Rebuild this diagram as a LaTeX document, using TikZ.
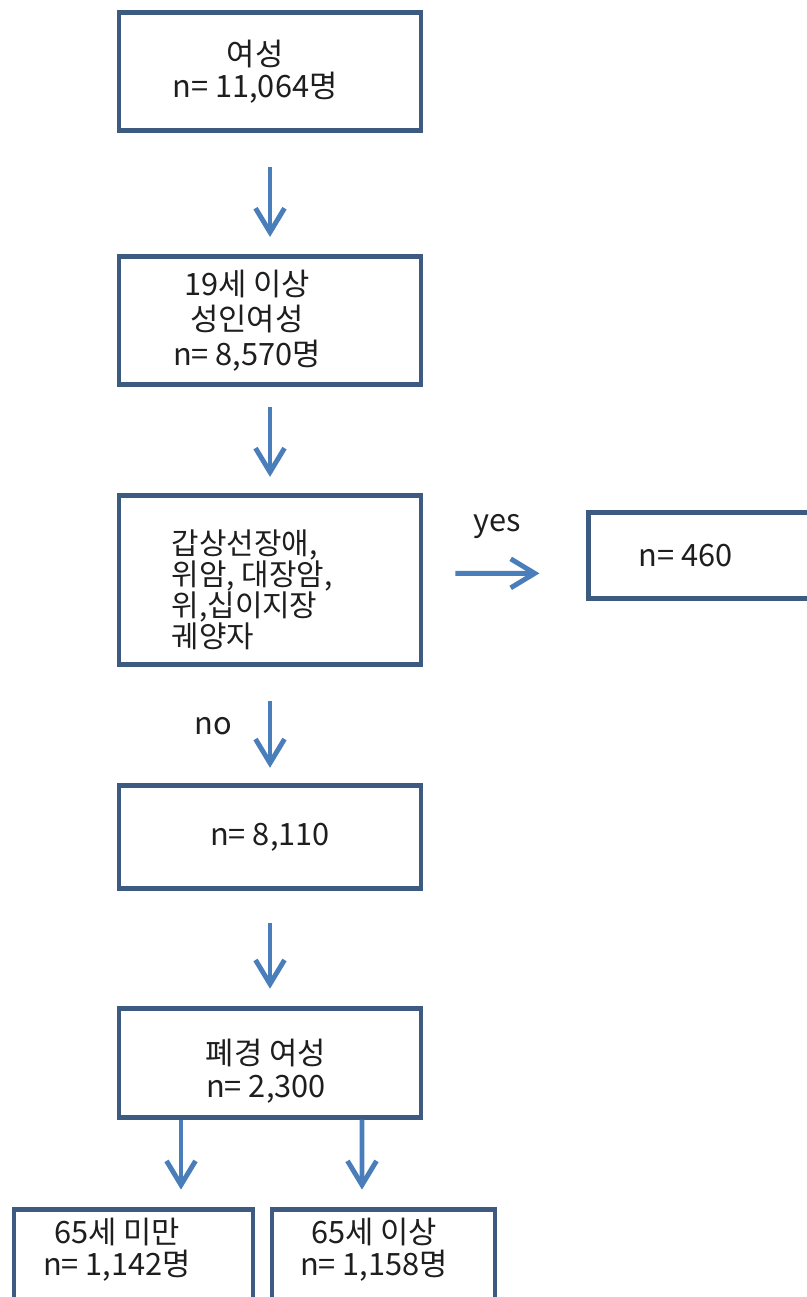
\documentclass[tikz,border=0pt]{standalone}
\usepackage{fontspec}
\setmainfont{Noto Sans CJK KR}
\usepackage{xcolor}
\usetikzlibrary{arrows.meta, positioning}
\definecolor{boxblue}{RGB}{61,90,128}
\definecolor{arrowblue}{RGB}{74,126,187}
\definecolor{textgray}{RGB}{30,30,30}
\begin{document}
\begin{tikzpicture}[
  box/.style={rectangle, draw=boxblue, line width=2.8pt, minimum width=6.04cm, inner sep=0pt},
  txt/.style={align=center, text=textgray, font=\fontsize{17.5}{18.5}\selectfont},
  arrow/.style={-{Straight Barb[length=4.8mm, width=5.8mm]}, line width=2.8pt, draw=arrowblue}
]
\useasboundingbox (0,0) rectangle (16.14,-25.94);

\node[box, minimum height=2.36cm] (women) at (5.40,-1.43) {};
\node[box, minimum height=2.56cm, below=2.42cm of women] (adult) {};
\node[box, minimum height=3.38cm, below=2.12cm of adult] (disease) {};
\node[box, minimum width=4.8cm, minimum height=1.72cm, right=3.26cm of disease, yshift=0.49cm] (excl) {};
\node[box, minimum height=2.06cm, below=2.32cm of disease] (remain) {};
\node[box, minimum height=2.18cm, below=2.3cm of remain] (meno) {};
\node[box, minimum width=4.78cm, minimum height=2.2cm, below=1.74cm of meno.south, xshift=-2.73cm] (young) {};
\node[box, minimum width=4.46cm, minimum height=2.2cm, below=1.74cm of meno.south, xshift=2.27cm] (old) {};

% texts
\node[txt] (womenT) at ([xshift=-0.3cm]women.center) {여성\\n= 11,064명};
\node[txt, font=\fontsize{17.5}{20}\selectfont] (adultT) at ([xshift=-0.46cm]adult.center) {19세 이상\\성인여성\\n= 8,570명};
\node[txt, align=left, anchor=west, font=\fontsize{17}{17.6}\selectfont] (diseaseT) at ([xshift=0.98cm, yshift=-0.2cm]disease.west) {갑상선장애,\\위암, 대장암,\\위,십이지장\\궤양자};
\node[txt] (exclT) at ([xshift=-0.46cm]excl.center) {n= 460};
\node[txt] (remainT) at (remain.center) {n= 8,110};
\node[txt] (menoT) at ([xshift=-0.08cm, yshift=-0.17cm]meno.center) {폐경 여성\\n= 2,300};
\node[txt] (youngT) at ([xshift=-0.33cm, yshift=-0.86cm]young.north) {65세 미만\\n= 1,142명};
\node[txt] (oldT) at ([xshift=-0.19cm, yshift=-0.86cm]old.north) {65세 이상\\n= 1,158명};

% arrows
\draw[arrow] ([yshift=-0.68cm]women.south) -- ([yshift=0.34cm]adult.north);
\draw[arrow] ([yshift=-0.4cm]adult.south) -- ([yshift=0.32cm]disease.north);
\draw[arrow] ([xshift=0.64cm, yshift=0.13cm]disease.east) -- node[txt, midway, yshift=0.94cm] (yes) {yes} ([xshift=-0.94cm, yshift=-0.36cm]excl.west);
\draw[arrow] ([yshift=-0.68cm]disease.south) -- node[txt, midway, xshift=-1.14cm, yshift=0.17cm] (no) {no} ([yshift=0.3cm]remain.north);
\draw[arrow] ([yshift=-0.64cm]remain.south) -- ([yshift=0.34cm]meno.north);
\draw[arrow] ([xshift=-1.78cm]meno.south) -- ([xshift=0.95cm, yshift=0.34cm]young.north);
\draw[arrow] ([xshift=1.84cm]meno.south) -- ([xshift=-0.43cm, yshift=0.34cm]old.north);
\end{tikzpicture}
\end{document}
